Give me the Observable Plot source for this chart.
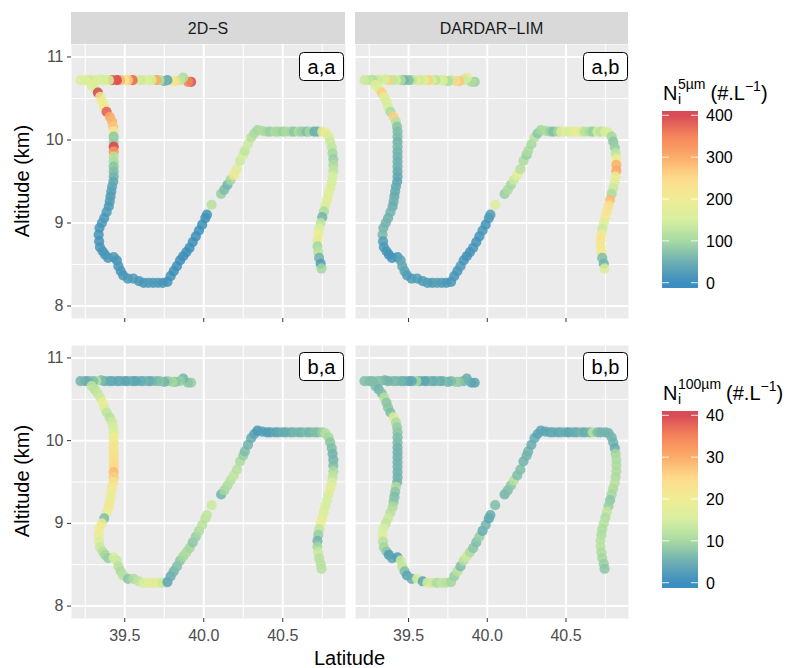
<!DOCTYPE html>
<html><head><meta charset="utf-8">
<script src="https://cdn.jsdelivr.net/npm/d3@7"></script>
<script src="https://cdn.jsdelivr.net/npm/@observablehq/plot@0.6"></script>
<style>
body{margin:0;background:#fff;}
#root{position:relative;width:792px;height:668px;font-family:"Liberation Sans",Arial,Helvetica,sans-serif;}
.pl{position:absolute;}
#ov{position:absolute;left:0;top:0;pointer-events:none;}
</style></head><body><div id="root"></div>
<script>
// ---------- data ----------
const facets = ["2D\u2212S", "DARDAR\u2212LIM"];
const panelLabels = ["a,a", "a,b", "b,a", "b,b"];
const lat = [
 39.92,39.90,39.87,39.85,39.82,39.80,39.77,39.75,39.72,39.70,39.67,39.65,39.62,39.60,39.57,39.55,39.52,39.50,39.47,39.45,39.42,39.40,39.37,39.35,39.32,39.30,39.27,39.25,39.22,
 39.29,39.31,39.33,39.345,39.36,39.37,39.385,39.405,39.42,39.427,39.43,39.43,39.43,39.43,39.43,39.43,39.43,39.43,39.43,39.43,39.428,39.42,39.415,39.41,39.405,39.399,39.385,39.37,39.355,39.34,39.335,39.338,39.343,39.36,39.375,39.395,39.43,39.45,39.46,39.475,39.49,39.52,39.555,39.59,39.62,39.65,39.68,39.71,39.74,39.77,
 39.79,39.81,39.83,39.85,39.87,39.89,39.91,39.93,39.95,39.97,39.99,40.01,40.02,40.05,40.11,40.13,40.15,40.17,40.19,40.21,40.23,40.25,40.26,40.28,40.30,40.32,40.34,
 40.37,40.40,40.42,40.45,40.47,40.50,40.52,40.55,40.57,40.60,40.62,40.65,40.67,40.70,40.72,40.75,40.77,
 40.79,40.80,40.81,40.815,40.82,40.82,40.82,40.815,40.81,40.80,40.79,40.78,40.77,40.76,40.75,40.74,40.73,40.725,40.72,40.72,40.725,40.73,40.74,40.745
];
const alt = [
 10.70,10.70,10.75,10.72,10.71,10.71,10.72,10.71,10.72,10.72,10.72,10.72,10.72,10.72,10.72,10.72,10.72,10.72,10.72,10.72,10.72,10.72,10.72,10.73,10.72,10.72,10.72,10.72,10.72,
 10.66,10.62,10.57,10.52,10.46,10.40,10.34,10.28,10.22,10.16,10.10,10.04,9.98,9.92,9.86,9.80,9.74,9.68,9.62,9.56,9.50,9.44,9.38,9.32,9.26,9.20,9.13,9.06,9.00,8.94,8.86,8.78,8.71,8.66,8.62,8.58,8.59,8.55,8.48,8.42,8.37,8.33,8.33,8.30,8.28,8.28,8.28,8.28,8.28,8.29,
 8.36,8.42,8.48,8.55,8.60,8.65,8.70,8.77,8.84,8.91,8.98,9.06,9.10,9.22,9.35,9.40,9.46,9.52,9.58,9.65,9.75,9.82,9.87,9.95,10.03,10.08,10.12,
 10.11,10.10,10.10,10.10,10.10,10.10,10.10,10.10,10.10,10.10,10.10,10.10,10.10,10.10,10.10,10.10,10.09,
 10.04,9.98,9.91,9.84,9.77,9.70,9.63,9.56,9.49,9.42,9.35,9.28,9.21,9.14,9.07,9.00,8.93,8.86,8.79,8.72,8.65,8.58,8.51,8.45
];
const n5_2ds = [
 390,340,110,130,240,200,40,60,120,300,160,150,170,140,160,370,260,220,290,400,380,150,160,150,170,160,140,170,160,
 170,160,400,200,190,210,380,300,290,270,200,80,90,400,320,120,110,80,70,60,45,40,35,30,30,25,25,20,25,20,20,15,20,20,20,20,25,20,20,20,20,20,25,20,20,25,25,25,20,15,
 15,10,10,10,10,10,10,10,10,10,10,10,15,120,90,70,60,100,210,170,140,150,130,140,120,110,100,
 110,100,90,110,100,90,110,100,80,110,90,70,100,50,60,180,190,
 160,140,130,100,90,110,130,150,150,160,170,170,160,110,60,130,150,200,180,100,120,60,30,100
];
const n5_dardar = [
 90,110,170,140,270,250,140,110,160,150,120,160,260,170,140,160,120,70,60,110,150,130,260,150,160,140,110,130,140,
 170,160,260,180,160,150,110,260,120,80,70,70,60,65,60,60,55,55,50,45,40,45,50,50,55,50,60,55,60,60,65,30,25,20,15,15,20,40,45,40,30,25,30,25,30,25,35,30,25,20,
 20,20,25,20,15,15,20,15,15,20,15,20,30,160,90,110,100,140,170,120,110,90,110,100,120,80,100,
 110,90,70,100,160,180,150,170,190,160,120,110,90,150,120,160,150,
 100,80,90,130,200,290,300,190,170,140,110,280,230,220,210,170,140,210,220,215,210,70,60,160
];
const n100_2ds = [
 9,8,6,9,8,10,9,6,8,7,6,5,6,5,4,4,5,4,4,5,4,5,5,7,12,7,6,5,6,
 13,12,13,14,19,17,13,12,14,15,16,20,21,22,22,23,24,25,28,26,23,21,20,19,20,21,19,7,19,20,19,16,14,12,10,9,15,14,12,11,12,8,11,13,15,17,18,17,14,4,
 5,6,7,8,10,11,10,8,9,11,12,12,13,14,6,10,11,12,13,12,11,9,7,6,5,4,2,
 3,3,3,4,4,5,5,5,6,6,6,7,6,7,7,9,12,
 10,8,7,6,6,7,11,13,16,18,16,15,15,16,17,19,13,9,6,10,14,12,12,12
];
const n100_dardar = [
 4,4,5,6,8,9,7,6,7,5,6,5,6,4,4,10,4,4,5,6,6,7,6,6,7,8,7,7,7,
 7,6,7,12,8,8,7,16,11,9,8,7,7,6,6,6,6,6,6,6,6,11,8,7,8,11,12,14,13,15,17,12,10,8,3,4,3,14,13,7,4,5,15,4,16,14,11,13,12,10,
 9,12,7,12,14,11,8,7,9,5,6,4,5,7,6,7,8,12,7,7,6,6,6,5,5,4,4,
 4,4,5,4,5,5,4,5,5,6,5,6,12,7,6,6,6,
 6,6,5,10,11,11,11,11,12,11,10,8,9,13,11,12,11,11,12,12,11,10,9,8
];
const stops5 = [0,50,100,150,200,250,300,350,400];
const stops100 = [0,5,10,15,20,25,30,35,40];
const specColors = ["#3288bd","#66abb0","#a3d89d","#d4ee9c","#efeb8f","#fdd985","#fca862","#f47e51","#d6424f"];
const ticks5 = [0,100,200,300,400];
const ticks100 = [0,10,20,30,40];
const majorX = [39.5,40.0,40.5], minorX = [39.25,39.75,40.25,40.75];
const majorY = [8,9,10,11], minorY = [8.5,9.5,10.5];
const xDomain = [39.163, 40.897], yDomain = [7.85, 11.15];

// ---------- layout ----------
const FONT = '"Liberation Sans", Arial, Helvetica, sans-serif';
const root = document.getElementById("root");

function panel(vals, stops, o) {
  const data = lat.map((d, i) => ({lat: d, alt: alt[i], v: vals[i]}));
  const g = {stroke: "#ffffff", strokeOpacity: 1};
  const p = Plot.plot({
    width: o.width, height: o.height,
    marginLeft: o.ml, marginRight: 0, marginTop: 0, marginBottom: o.mb,
    x: {domain: xDomain, label: null, axis: null},
    y: {domain: yDomain, label: null, axis: null},
    color: {type: "linear", domain: stops, range: specColors, clamp: true},
    style: {fontFamily: FONT, fontSize: "16px", color: "#4d4d4d", background: "transparent", overflow: "visible"},
    marks: [
      Plot.frame({fill: "#ebebeb", stroke: "none"}),
      Plot.gridX({ticks: minorX, ...g, strokeWidth: 1}),
      Plot.gridY({ticks: minorY, ...g, strokeWidth: 1}),
      Plot.gridX({ticks: majorX, ...g, strokeWidth: 2}),
      Plot.gridY({ticks: majorY, ...g, strokeWidth: 2}),
      Plot.axisX({ticks: majorX, tickSize: 4, tickPadding: 7, stroke: "#333333", label: null,
        tickFormat: o.xlabels ? d3.format(".1f") : () => ""}),
      o.yaxis ? Plot.axisY({ticks: majorY, tickSize: 4, tickPadding: 4, stroke: "#333333", label: null,
        tickFormat: d3.format("d")}) : null,
      Plot.dot(data, {x: "lat", y: "alt", fill: "v", r: 5.1, fillOpacity: 0.85})
    ]
  });
  const wrap = document.createElement("div");
  wrap.className = "pl";
  wrap.style.left = o.left + "px";
  wrap.style.top = o.top + "px";
  wrap.appendChild(p);
  root.appendChild(wrap);
}

panel(n5_2ds, stops5, {left: 0, top: 44, width: 345, height: 284, ml: 71, mb: 10, yaxis: true, xlabels: false});
panel(n5_dardar, stops5, {left: 355, top: 44, width: 273, height: 284, ml: 0, mb: 10, yaxis: false, xlabels: false});
panel(n100_2ds, stops100, {left: 0, top: 345, width: 345, height: 303, ml: 71, mb: 30, yaxis: true, xlabels: true});
panel(n100_dardar, stops100, {left: 355, top: 345, width: 273, height: 303, ml: 0, mb: 30, yaxis: false, xlabels: true});

// ---------- overlay: strips, labels, titles, legends ----------
const svg = d3.create("svg").attr("id", "ov").attr("width", 792).attr("height", 668)
  .attr("font-family", FONT);
root.appendChild(svg.node());

// strips
[[71, 274], [355, 273]].forEach(([x, w], i) => {
  svg.append("rect").attr("x", x).attr("y", 12).attr("width", w).attr("height", 32).attr("fill", "#d9d9d9");
  svg.append("text").attr("x", x + w / 2).attr("y", 33.5).attr("text-anchor", "middle")
    .attr("font-size", 16).attr("fill", "#1a1a1a").text(facets[i]);
});

// panel labels
[[344, 52], [628, 52], [344, 352], [628, 352]].forEach(([xr, yt], i) => {
  svg.append("rect").attr("x", xr - 44.5).attr("y", yt + 0.5).attr("width", 44).attr("height", 28)
    .attr("rx", 4).attr("fill", "white").attr("stroke", "black").attr("stroke-width", 1);
  svg.append("text").attr("x", xr - 22.5).attr("y", yt + 21.5).attr("text-anchor", "middle")
    .attr("font-size", 20).attr("fill", "black").text(panelLabels[i]);
});

// axis titles
[181, 481].forEach(cy => {
  svg.append("text").attr("transform", `translate(29,${cy}) rotate(-90)`).attr("text-anchor", "middle")
    .attr("font-size", 20).attr("fill", "black").text("Altitude (km)");
});
svg.append("text").attr("x", 349.5).attr("y", 665).attr("text-anchor", "middle")
  .attr("font-size", 20).attr("fill", "black").text("Latitude");

// legends
function legend(y0, stops, ticks, sup, id) {
  const sc = Plot.scale({color: {type: "linear", domain: stops, range: specColors, clamp: true}});
  const vmax = stops[stops.length - 1];
  const yZero = y0 + 171.7, yMax = y0 + 4.3;
  const px = (yZero - yMax) / vmax;
  const top = y0, bot = y0 + 177;
  const vTop = (yZero - top) / px, vBot = (yZero - bot) / px;
  const grad = svg.append("defs").append("linearGradient").attr("id", id)
    .attr("x1", 0).attr("y1", 1).attr("x2", 0).attr("y2", 0);
  d3.range(0, 41).forEach(k => {
    const v = vBot + (vTop - vBot) * k / 40;
    grad.append("stop").attr("offset", k / 40).attr("stop-color", sc.apply(Math.max(0, Math.min(vmax, v))));
  });
  svg.append("rect").attr("x", 662).attr("y", top).attr("width", 36).attr("height", bot - top)
    .attr("fill", `url(#${id})`).attr("opacity", 0.95);
  ticks.forEach(t => {
    const y = yZero - t * px;
    svg.append("line").attr("x1", 662).attr("x2", 669).attr("y1", y).attr("y2", y).attr("stroke", "white").attr("stroke-opacity", 0.85);
    svg.append("line").attr("x1", 691).attr("x2", 698).attr("y1", y).attr("y2", y).attr("stroke", "white").attr("stroke-opacity", 0.85);
    svg.append("text").attr("x", 706).attr("y", y + 5.8).attr("font-size", 16).attr("fill", "black").text(t);
  });
  const ty = y0 - 11;
  const g = svg.append("g").attr("fill", "black");
  const N = g.append("text").attr("x", 663).attr("y", ty).attr("font-size", 20).text("N");
  const xs = 663 + N.node().getComputedTextLength() + 0.5;
  g.append("text").attr("x", xs).attr("y", ty + 4).attr("font-size", 14).text("i");
  const s = g.append("text").attr("x", xs).attr("y", ty - 11).attr("font-size", 14).text(sup);
  const x2 = xs + s.node().getComputedTextLength() + 5;
  const t2 = g.append("text").attr("x", x2).attr("y", ty).attr("font-size", 20).text("(#.L");
  const x3 = x2 + t2.node().getComputedTextLength();
  const t3 = g.append("text").attr("x", x3).attr("y", ty - 9).attr("font-size", 14).text("\u22121");
  const x4 = x3 + t3.node().getComputedTextLength();
  g.append("text").attr("x", x4).attr("y", ty).attr("font-size", 20).text(")");
}
legend(111, stops5, ticks5, "5\u00b5m", "g5");
legend(411, stops100, ticks100, "100\u00b5m", "g100");
</script></body></html>
